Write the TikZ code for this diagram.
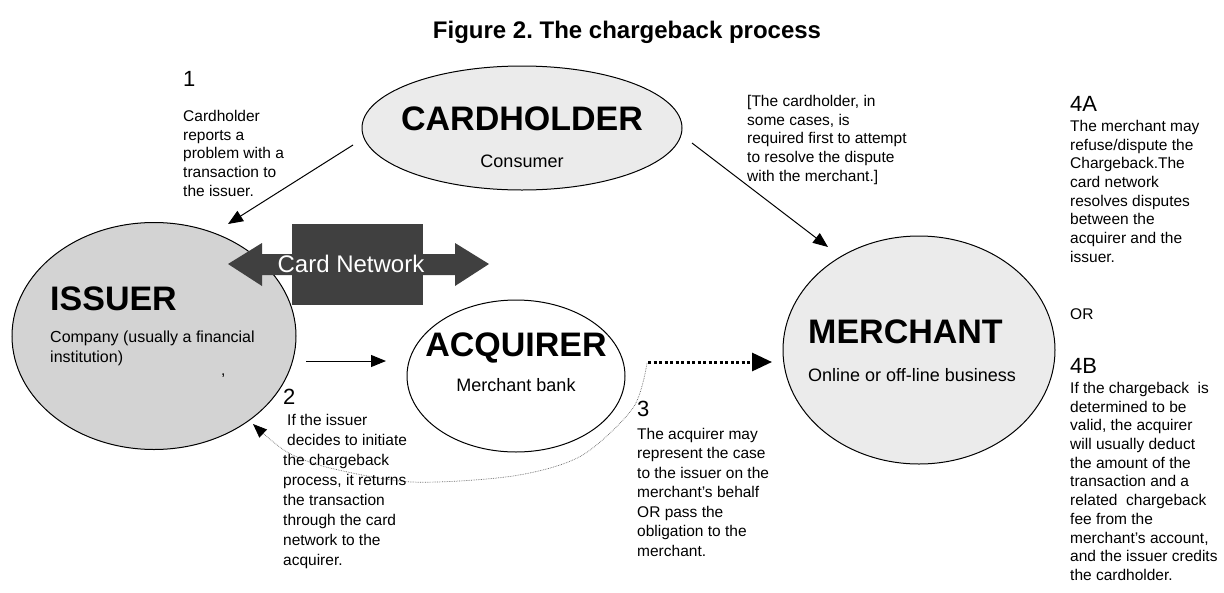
\documentclass[tikz,border=0pt]{standalone}
\usepackage{fontspec}
\setmainfont{Liberation Sans}
\usetikzlibrary{shapes.geometric,arrows.meta}
\definecolor{lightfill}{HTML}{EBEBEB}
\definecolor{issuerfill}{HTML}{D3D3D3}
\definecolor{netgray}{HTML}{404040}
\frenchspacing
\begin{document}
\begin{tikzpicture}[x=1pt,y=-1pt,
  body/.style={font=\fontsize{15.5}{18.7}\selectfont, align=left, anchor=north west, inner sep=0pt},
  bodywide/.style={body, font=\fontsize{15.5}{20}\selectfont},
  stepnum/.style={font=\fontsize{22}{24}\selectfont, anchor=north west, inner sep=0pt},
  bigname/.style={font=\fontsize{34}{36}\selectfont\bfseries, inner sep=0pt, anchor=north},
  subname/.style={font=\fontsize{18}{20}\selectfont, inner sep=0pt, anchor=north},
  party/.style={draw=black, line width=1pt, ellipse, inner sep=0pt},
  arr/.style={line width=1pt, -{Triangle[length=15pt,width=12pt]}},
]
\useasboundingbox (0,0) rectangle (1224,592);
\fill[white] (0,0) rectangle (1224,592);

% title
\node[font=\fontsize{24}{26}\selectfont\bfseries, inner sep=0pt] (title) at (627,32) {Figure 2. The chargeback process};

% parties
\node[party, fill=lightfill, minimum width=320, minimum height=124] (cardholder) at (522,128) {};
\node[party, fill=issuerfill, minimum width=284, minimum height=227] (issuer) at (154,336) {};
\node[party, fill=white, minimum width=218, minimum height=152] (acquirer) at (516,376) {};
\node[party, fill=lightfill, minimum width=272, minimum height=228] (merchant) at (919,350) {};

\node[bigname] (chname) at (522,107) {CARDHOLDER};
\node[subname] (chsub) at (522,155) {Consumer};
\node[bigname, anchor=north west] (isname) at (50,287) {ISSUER};
\node[body, font=\fontsize{16}{20}\selectfont] (issub) at (50,331) {Company (usually a financial\\institution)};
\node[body] (comma) at (221,374) {,};
\node[bigname] (acname) at (516,333) {ACQUIRER};
\node[subname] (acsub) at (516,378) {Merchant bank};
\node[bigname, anchor=north west] (mename) at (808,320) {MERCHANT};
\node[subname, anchor=north west] (mesub) at (808,368) {Online or off-line business};

% card network
\fill[netgray] (228,264) -- (262,243) -- (262,254) -- (455,254) -- (455,243) -- (489,264)
  -- (455,286) -- (455,275) -- (262,275) -- (262,286) -- cycle;
\fill[netgray] (292,224) rectangle (423,305);
\node[font=\fontsize{24}{26}\selectfont, text=white, inner sep=0pt] (cardnet) at (351,264) {Card Network};

% connectors
\coordinate (a1s) at (353,145); \coordinate (a1e) at (228,224);
\draw[arr] (a1s) -- (a1e);
\coordinate (a2s) at (692,143); \coordinate (a2e) at (828,247);
\draw[arr] (a2s) -- (a2e);
\coordinate (a3s) at (306,361); \coordinate (a3e) at (386,361);
\draw[arr] (a3s) -- (a3e);
\coordinate (a4s) at (648,362); \coordinate (a4e) at (772,362);
\draw[line width=3pt, dash pattern=on 3pt off 2.5pt, -{Triangle[length=20pt,width=18pt]}] (a4s) -- (a4e);
\draw[densely dotted, line width=0.7pt, black!60, -{Triangle[length=14pt,width=11pt,color=black]}]
  plot[smooth] coordinates {(647,363) (633,408) (581,456) (513,476) (412,482) (330,468) (287,452) (253,424)};

% step texts
\node[stepnum] (s1) at (183,71) {1};
\node[body] (t1) at (183,110) {Cardholder\\reports a\\problem with a\\transaction to\\the issuer.};
\node[body] (tb) at (747,95) {[The cardholder, in\\some cases, is\\required first to attempt\\to resolve the dispute\\with the merchant.]};
\node[stepnum] (s2) at (283,389) {2};
\node[bodywide] (t2) at (283,414) {\hspace*{4pt}If the issuer\\\hspace*{4pt}decides to initiate\\the chargeback\\process, it returns\\the transaction\\through the card\\network to the\\acquirer.};
\node[stepnum] (s3) at (637,401) {3};
\node[body, font=\fontsize{15.5}{19.5}\selectfont] (t3) at (637,428) {The acquirer may\\represent the case\\to the issuer on the\\merchant’s behalf\\OR pass the\\obligation to the\\merchant.};
\node[stepnum] (s4a) at (1070,96) {4A};
\node[body] (t4a) at (1070,120) {The merchant may\\refuse/dispute the\\Chargeback.The\\card network\\resolves disputes\\between the\\acquirer and the\\issuer.};
\node[body] (or) at (1070,308) {OR};
\node[stepnum] (s4b) at (1070,358) {4B};
\node[body] (t4b) at (1070,382) {If the chargeback\ \ is\\determined to be\\valid, the acquirer\\will usually deduct\\the amount of the\\transaction and a\\related\ \ chargeback\\fee from the\\merchant’s account,\\and the issuer credits\\the cardholder.};
\end{tikzpicture}
\end{document}
